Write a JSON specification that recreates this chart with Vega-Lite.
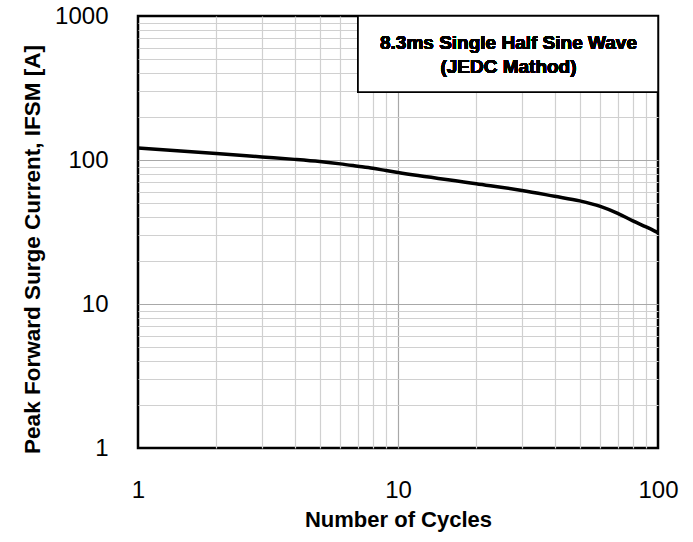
{
  "$schema": "https://vega.github.io/schema/vega-lite/v6.json",
  "autosize": {"type": "none"},
  "width": 520,
  "height": 432,
  "padding": {"left": 138, "top": 16, "right": 35, "bottom": 94},
  "background": "white",
  "config": {
    "view": {"stroke": "black", "strokeWidth": 2.5},
    "font": "Liberation Sans"
  },
  "data": {
    "values": [
      {"cycles": 1, "current": 121},
      {"cycles": 2, "current": 111},
      {"cycles": 3, "current": 105},
      {"cycles": 4, "current": 101},
      {"cycles": 5, "current": 97.5},
      {"cycles": 6, "current": 94},
      {"cycles": 7, "current": 90.5},
      {"cycles": 8, "current": 87.5},
      {"cycles": 9, "current": 84.5},
      {"cycles": 10, "current": 82},
      {"cycles": 20, "current": 68.5},
      {"cycles": 30, "current": 61.5},
      {"cycles": 40, "current": 56},
      {"cycles": 50, "current": 52},
      {"cycles": 60, "current": 47.6},
      {"cycles": 70, "current": 42.6},
      {"cycles": 80, "current": 37.8},
      {"cycles": 90, "current": 34.3},
      {"cycles": 100, "current": 31.3}
    ]
  },
  "layer": [
    {
      "mark": {"type": "line", "color": "black", "strokeWidth": 3.5, "interpolate": "monotone"},
      "encoding": {
        "x": {
          "field": "cycles", "type": "quantitative",
          "scale": {"type": "log", "domain": [1, 100], "nice": false},
          "axis": {
            "values": [1,2,3,4,5,6,7,8,9,10,20,30,40,50,60,70,80,90,100],
            "labelExpr": "indexof([1,10,100], datum.value) >= 0 ? format(datum.value, 'd') : ''",
            "ticks": false, "domain": false,
            "labelPadding": 30, "labelFontSize": 24, "labelColor": "black",
            "labelOverlap": false, "labelFlush": false,
            "grid": true,
            "gridColor": {"condition": {"test": "indexof([1,10,100], datum.value) >= 0", "value": "#a8a8a8"}, "value": "#d0d0d0"},
            "gridOpacity": {"condition": {"test": "datum.value == 1 || datum.value == 100", "value": 0}, "value": 1},
            "gridWidth": 1.2,
            "title": "Number of Cycles", "titleFontSize": 22, "titleFontWeight": "bold", "titleColor": "black",
            "titlePadding": 7
          }
        },
        "y": {
          "field": "current", "type": "quantitative",
          "scale": {"type": "log", "domain": [1, 1000], "nice": false},
          "axis": {
            "values": [1,2,3,4,5,6,7,8,9,10,20,30,40,50,60,70,80,90,100,200,300,400,500,600,700,800,900,1000],
            "labelExpr": "indexof([1,10,100,1000], datum.value) >= 0 ? format(datum.value, 'd') : ''",
            "ticks": false, "domain": false,
            "labelPadding": 30, "labelFontSize": 24, "labelColor": "black",
            "labelOverlap": false, "labelFlush": false, "labelBaseline": "middle",
            "grid": true,
            "gridColor": {"condition": {"test": "indexof([1,10,100,1000], datum.value) >= 0", "value": "#a8a8a8"}, "value": "#d0d0d0"},
            "gridOpacity": {"condition": {"test": "datum.value == 1 || datum.value == 1000", "value": 0}, "value": 1},
            "gridWidth": 1.2,
            "title": "Peak Forward Surge Current, IFSM [A]", "titleFontSize": 22.5, "titleFontWeight": "bold", "titleColor": "black",
            "titlePadding": 10, "titleY": 233
          }
        }
      }
    },
    {
      "mark": {"type": "rect", "fill": "white", "stroke": "black", "strokeWidth": 1.5},
      "encoding": {
        "x": {"datum": 7.02, "type": "quantitative"},
        "x2": {"datum": 100},
        "y": {"datum": 1000, "type": "quantitative"},
        "y2": {"datum": 297}
      }
    },
    {
      "mark": {"type": "text", "fontSize": 19, "fontWeight": "bold", "fill": "black", "align": "center", "baseline": "middle"},
      "encoding": {
        "x": {"datum": 26.6, "type": "quantitative"},
        "y": {"datum": 650, "type": "quantitative"},
        "text": {"value": "8.3ms Single Half Sine Wave"}
      }
    },
    {
      "mark": {"type": "text", "fontSize": 19, "fontWeight": "bold", "fill": "black", "align": "center", "baseline": "middle"},
      "encoding": {
        "x": {"datum": 26.6, "type": "quantitative"},
        "y": {"datum": 442, "type": "quantitative"},
        "text": {"value": "(JEDC Mathod)"}
      }
    }
  ]
}
